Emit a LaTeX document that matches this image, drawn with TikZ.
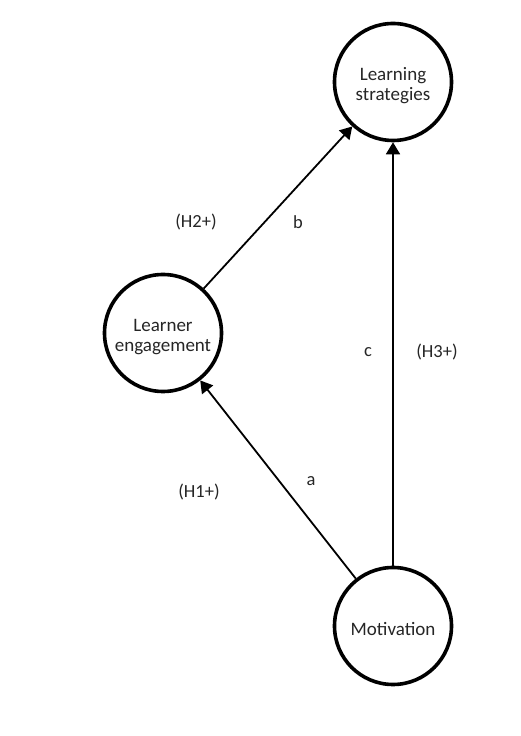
\documentclass[tikz,border=0pt]{standalone}
\usepackage{fontspec}
\setmainfont{Carlito}
\usetikzlibrary{arrows.meta}
\begin{document}
\begin{tikzpicture}[x=1pt,y=1pt,
  var/.style={circle,draw=black,line width=3.6pt,minimum size=117pt,inner sep=0pt,
    align=center,font=\fontsize{19}{19.5}\selectfont,text=black!85},
  oneline/.style={text height=19pt},
  twoline/.style={text height=40pt},
  path/.style={line width=1.8pt,-{Triangle[length=12pt,width=14pt]}},
  lab/.style={font=\fontsize{18.5}{18}\selectfont,text=black!85}]
\useasboundingbox[fill=white] (0,0) rectangle (521,736);
\node[var,twoline] (ls) at (393,654) {Learning\\strategies};
\node[var,twoline] (le) at (163,403) {Learner\\engagement};
\node[var,oneline] (mo) at (393,110) {Motivation};
\draw[path] (le) -- (ls);
\draw[path] (mo) -- (le);
\draw[path] (mo) -- (ls);
\node[lab] (h2) at (196,514) {(H2+)};
\node[lab] (b) at (298,514) {b};
\node[lab] (c) at (368,384) {c};
\node[lab] (h3) at (437,384) {(H3+)};
\node[lab] (h1) at (199,244) {(H1+)};
\node[lab] (a) at (311,255) {a};
\end{tikzpicture}
\end{document}
